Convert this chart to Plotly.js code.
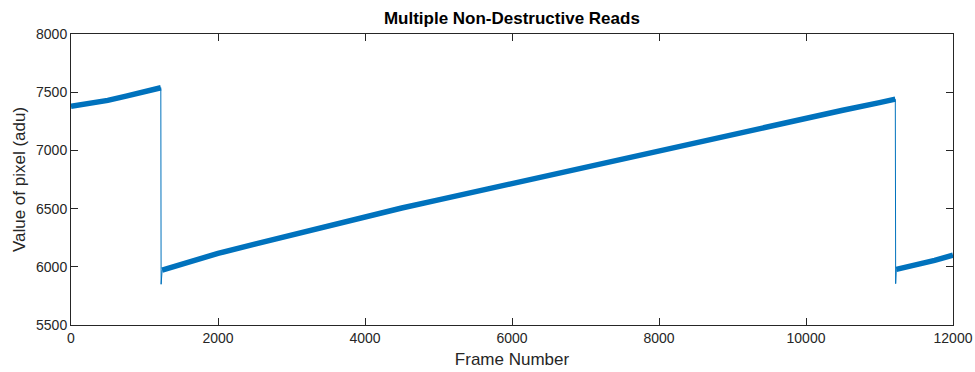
<!DOCTYPE html>
<html>
<head>
<meta charset="utf-8">
<script src="https://cdn.plot.ly/plotly-3.0.1.min.js"></script>
<style>html,body{margin:0;padding:0;background:#fff;}#chart{width:975px;height:372px;}</style>
</head>
<body>
<div id="chart"></div>
<script>
// Values (centre of the noisy band)
const seg1Frames = [0, 250, 500, 750, 1000, 1222];
const seg1Values = [7378, 7400, 7430, 7466, 7504, 7538];

const drop1Frames = [1222, 1226, 1240];
const drop1Values = [7540, 5850, 5972];

const seg2Frames = [1240, 1500, 2000, 2500, 3000, 3500, 4000, 4500, 5000, 5500, 6000, 6500, 7000, 7500, 8000, 8500, 9000, 9500, 10000, 10500, 11000, 11215];
const seg2Values = [5972, 6020, 6115, 6195, 6275, 6355, 6435, 6505, 6575, 6645, 6720, 6790, 6865, 6935, 7005, 7075, 7145, 7215, 7280, 7345, 7410, 7440];

const drop2Frames = [11215, 11220, 11228];
const drop2Values = [7440, 5855, 5978];

const seg3Frames = [11228, 11500, 11750, 12000];
const seg3Values = [5978, 6015, 6055, 6100];

const xTicks = [0, 2000, 4000, 6000, 8000, 10000, 12000];
const yTicks = [5500, 6000, 6500, 7000, 7500, 8000];

const blue = '#0072BD';
const axisColor = '#262626';
const fontFam = 'Liberation Sans, Arial, Helvetica, sans-serif';

const thick = {color: blue, width: 5.5};
const thin = {color: blue, width: 1};

const traces = [
  {x: seg1Frames, y: seg1Values, mode: 'lines', line: thick},
  {x: drop1Frames, y: drop1Values, mode: 'lines', line: thin},
  {x: seg2Frames, y: seg2Values, mode: 'lines', line: thick},
  {x: drop2Frames, y: drop2Values, mode: 'lines', line: thin},
  {x: seg3Frames, y: seg3Values, mode: 'lines', line: thick}
];

const axisCommon = {
  showline: true, linecolor: axisColor, linewidth: 1, mirror: 'ticks',
  ticks: 'inside', ticklen: 7, tickwidth: 1, tickcolor: axisColor,
  showgrid: false, zeroline: false,
  tickfont: {family: fontFam, size: 14, color: axisColor}
};

const layout = {
  width: 975, height: 372,
  margin: {l: 71, r: 22, t: 34, b: 47},
  paper_bgcolor: '#fff', plot_bgcolor: '#fff',
  showlegend: false,
  title: {text: '<b>Multiple Non-Destructive Reads</b>', x: 0.525, xanchor: 'center', y: 0.952, yanchor: 'middle',
          font: {family: fontFam, size: 17, color: '#000'}},
  xaxis: Object.assign({}, axisCommon, {
    range: [0, 12000], tickvals: xTicks, ticktext: xTicks.map(String),
    title: {text: 'Frame Number', font: {family: fontFam, size: 17, color: axisColor}, standoff: 8}
  }),
  yaxis: Object.assign({}, axisCommon, {
    range: [5500, 8000], tickvals: yTicks, ticktext: yTicks.map(String),
    title: {text: 'Value of pixel (adu)', font: {family: fontFam, size: 17, color: axisColor}, standoff: 6}
  })
};

Plotly.newPlot('chart', traces, layout, {staticPlot: true, displayModeBar: false});
</script>
</body>
</html>
